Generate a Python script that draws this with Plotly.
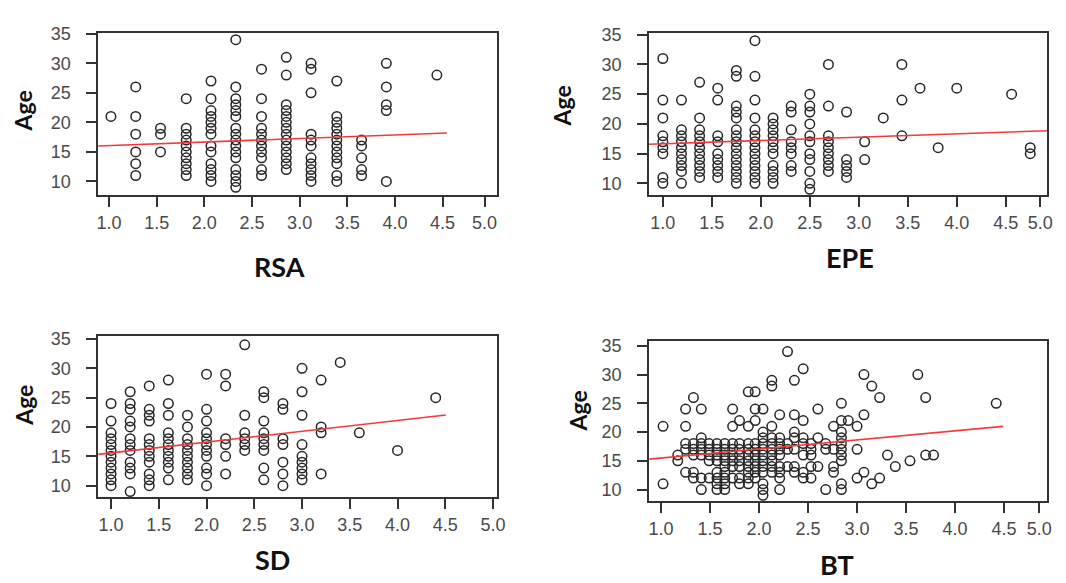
import plotly.graph_objects as go

# ---------------- data ----------------
Y_TICKS = [10, 15, 20, 25, 30, 35]
X_TICK_TEXT = ["1.0", "1.5", "2.0", "2.5", "3.0", "3.5", "4.0", "4.5", "5.0"]

PANEL_TITLES = ["RSA", "EPE", "SD", "BT"]

RSA_LEVELS = [1.02, 1.28, 1.54, 1.81, 2.07, 2.33, 2.60, 2.86, 3.12, 3.39, 3.65, 3.91, 4.44]
RSA_AGES = [
    [21],
    [26, 21, 18, 15, 13, 11],
    [19, 18, 15],
    [24, 19, 18, 17, 16, 15, 14, 13, 12, 11],
    [27, 24, 22, 21, 20, 19, 18, 16, 15, 13, 12, 11, 10],
    [34, 26, 24, 23, 22, 21, 19, 18, 17, 16, 15, 14, 12, 11, 10, 9],
    [29, 24, 21, 19, 18, 17, 16, 15, 14, 12, 11],
    [31, 28, 23, 22, 21, 20, 19, 18, 17, 16, 15, 14, 13, 12],
    [30, 29, 25, 18, 17, 16, 14, 13, 12, 11, 10],
    [27, 21, 20, 19, 18, 17, 16, 15, 14, 13, 11, 10],
    [17, 16, 14, 12, 11],
    [30, 26, 23, 22, 10],
    [28],
]

EPE_LEVELS = [1.0, 1.19, 1.375, 1.56, 1.75, 1.94, 2.125, 2.31, 2.5, 2.69, 2.875,
              3.06, 3.25, 3.44, 3.625, 3.81, 4.0, 4.56, 4.75]
EPE_AGES = [
    [31, 24, 21, 18, 17, 16, 15, 11, 10],
    [24, 19, 18, 17, 16, 15, 14, 13, 12, 10],
    [27, 21, 19, 18, 17, 16, 15, 14, 13, 12, 11],
    [26, 24, 18, 17, 15, 14, 13, 12, 11],
    [29, 28, 23, 22, 21, 19, 18, 17, 16, 15, 14, 13, 12, 11, 10],
    [34, 28, 24, 21, 19, 18, 17, 16, 15, 14, 13, 12, 11, 10],
    [21, 20, 19, 18, 17, 16, 15, 13, 12, 11, 10],
    [23, 22, 19, 17, 16, 15, 13, 12],
    [25, 23, 22, 20, 18, 17, 15, 14, 12, 10, 9],
    [30, 23, 18, 17, 16, 15, 14, 13, 12],
    [22, 14, 13, 12, 11],
    [17, 14],
    [21],
    [30, 24, 18],
    [26],
    [16],
    [26],
    [25],
    [16, 15],
]

SD_LEVELS = [1.0, 1.2, 1.4, 1.6, 1.8, 2.0, 2.2, 2.4, 2.6, 2.8, 3.0, 3.2, 3.4, 3.6, 4.0, 4.4]
SD_AGES = [
    [24, 21, 19, 18, 17, 16, 15, 14, 13, 12, 11, 10],
    [26, 24, 23, 21, 20, 18, 17, 16, 14, 13, 12, 9],
    [27, 23, 22, 21, 18, 17, 16, 15, 14, 12, 11, 10],
    [28, 24, 22, 19, 18, 17, 16, 15, 14, 13, 11],
    [22, 20, 18, 17, 16, 15, 14, 13, 12, 11],
    [29, 23, 21, 19, 18, 17, 16, 15, 13, 12, 10],
    [29, 27, 18, 17, 15, 12],
    [34, 22, 19, 18, 17, 16],
    [26, 25, 21, 19, 18, 17, 16, 13, 11],
    [24, 23, 18, 17, 14, 12, 10],
    [30, 26, 22, 17, 15, 14, 13, 12, 11],
    [28, 20, 19, 12],
    [31],
    [19],
    [16],
    [25],
]

BT_LEVELS = [1.02, 1.17, 1.25, 1.33, 1.41, 1.49, 1.57, 1.65, 1.73, 1.80, 1.89, 1.96,
             2.04, 2.13, 2.21, 2.29, 2.36, 2.45, 2.53, 2.60, 2.68, 2.76, 2.84, 2.91,
             3.0, 3.07, 3.15, 3.23, 3.31, 3.39, 3.54, 3.62, 3.70, 3.78, 4.42]
BT_AGES = [
    [21, 11],
    [16, 15],
    [24, 21, 18, 17, 13],
    [26, 18, 17, 16, 13, 12],
    [24, 19, 18, 17, 16, 12, 10],
    [18, 17, 16, 15, 12],
    [18, 17, 16, 15, 13, 12, 11, 10],
    [18, 17, 16, 15, 14, 13, 12, 11, 10],
    [24, 21, 18, 17, 16, 15, 14, 12],
    [22, 18, 17, 16, 15, 14, 12, 11],
    [27, 21, 18, 17, 16, 15, 14, 13, 12, 11],
    [27, 24, 22, 18, 17, 16, 15, 14, 13, 12],
    [24, 20, 19, 18, 17, 16, 15, 14, 13, 11, 10, 9],
    [29, 28, 21, 19, 18, 17, 16, 15, 14, 13],
    [23, 19, 18, 17, 16, 14, 13, 12, 10],
    [34, 18, 17, 14],
    [29, 23, 20, 19, 17, 14, 13],
    [31, 22, 19, 18, 16, 13, 12],
    [18, 17, 16, 14, 12],
    [24, 19, 14],
    [18, 17, 10],
    [21, 17, 14, 13],
    [25, 22, 20, 19, 18, 17, 16, 15, 11, 10],
    [22],
    [21, 17, 12],
    [30, 23, 13],
    [28, 11],
    [26, 12],
    [16],
    [14],
    [15],
    [30],
    [26, 16],
    [16],
    [25],
]

# fitted regression lines (intercept, slope) and drawn extent
REG_INTERCEPT = [15.47, 16.09, 13.73, 13.91]
REG_SLOPE = [0.60, 0.561, 1.843, 1.58]
REG_X_START = [0.886, 0.858, 0.865, 0.879]
REG_X_END = [4.545, 4.923, 4.506, 4.49]

# ---------------- layout helpers ----------------
W, H = 1066, 583
# plot boxes in pixels: (left, right, top, bottom)
BOXES = [(89, 492, 16, 181), (645, 1047, 16, 181), (89, 492, 324, 488), (645, 1047, 329, 492)]
X_RANGES = [(0.886, 5.075), (0.858, 4.923), (0.865, 5.046), (0.876, 4.94)]
Y_RANGES = [(7.667, 35.167), (8.01, 35.33), (7.99, 35.5), (7.95, 35.86)]
X_TICK_POS = [
    [1.0, 1.5, 2.0, 2.5, 3.0, 3.5, 4.0, 4.5, 4.94],
    [1.0, 1.5, 2.0, 2.5, 3.0, 3.5, 4.0, 4.5, 4.853],
    [1.0, 1.5, 2.0, 2.5, 3.0, 3.5, 4.0, 4.5, 5.0],
    [1.0, 1.5, 2.0, 2.5, 3.0, 3.5, 4.0, 4.5, 4.86],
]
TITLE_POS = [(272, 253), (848, 244), (265, 551), (835, 556)]
AGE_POS = [(13, 95), (557, 90), (14, 394), (573, 400)]

fig = go.Figure()

datasets = [(RSA_LEVELS, RSA_AGES), (EPE_LEVELS, EPE_AGES), (SD_LEVELS, SD_AGES), (BT_LEVELS, BT_AGES)]

tick_font = dict(family="Liberation Sans, Arial, sans-serif", size=18, color="#4a4a4a")

for i, (levels, ages) in enumerate(datasets):
    xs, ys = [], []
    for lv, col in zip(levels, ages):
        for a in col:
            xs.append(lv)
            ys.append(a)
    sfx = "" if i == 0 else str(i + 1)
    fig.add_trace(go.Scatter(
        x=xs, y=ys, mode="markers", xaxis="x" + sfx, yaxis="y" + sfx,
        marker=dict(symbol="circle-open", size=9.5, color="#262626", line=dict(width=1.5, color="#262626")),
        showlegend=False, hoverinfo="skip"))
    x0, x1 = REG_X_START[i], REG_X_END[i]
    fig.add_trace(go.Scatter(
        x=[x0, x1], y=[REG_INTERCEPT[i] + REG_SLOPE[i] * x0, REG_INTERCEPT[i] + REG_SLOPE[i] * x1],
        mode="lines", xaxis="x" + sfx, yaxis="y" + sfx,
        line=dict(color="#f23a3a", width=1.6), showlegend=False, hoverinfo="skip"))

    l, r, t, b = BOXES[i]
    common = dict(showgrid=False, zeroline=False, showline=True, mirror=True,
                  linecolor="#333333", linewidth=1.6, ticks="outside", ticklen=10,
                  tickwidth=2, tickcolor="#333333", tickfont=tick_font, fixedrange=True)
    fig.layout["xaxis" + sfx] = dict(
        domain=[l / W, r / W], range=list(X_RANGES[i]), anchor="y" + sfx,
        tickmode="array", tickvals=X_TICK_POS[i], ticktext=X_TICK_TEXT,
        ticklabelstandoff=0, **common)
    fig.layout["yaxis" + sfx] = dict(
        domain=[1 - b / H, 1 - t / H], range=list(Y_RANGES[i]), anchor="x" + sfx,
        tickmode="array", tickvals=Y_TICKS, ticktext=[str(v) for v in Y_TICKS],
        ticklabelstandoff=12, **common)

    tx, ty = TITLE_POS[i]
    fig.add_annotation(x=tx / W, y=1 - ty / H, xref="paper", yref="paper",
                       text="<b>" + PANEL_TITLES[i] + "</b>", showarrow=False,
                       font=dict(family="Lato, Open Sans, sans-serif", size=27, color="#111111"),
                       xanchor="center", yanchor="middle")
    ax, ay = AGE_POS[i]
    fig.add_annotation(x=ax / W, y=1 - ay / H, xref="paper", yref="paper",
                       text="<b>Age</b>", showarrow=False, textangle=-90,
                       font=dict(family="Lato, Open Sans, sans-serif", size=23, color="#111111"),
                       xanchor="center", yanchor="middle")

fig.update_layout(width=W, height=H, autosize=False,
                  margin=dict(l=0, r=0, t=0, b=0),
                  paper_bgcolor="white", plot_bgcolor="white")

fig.write_html("out.html")
